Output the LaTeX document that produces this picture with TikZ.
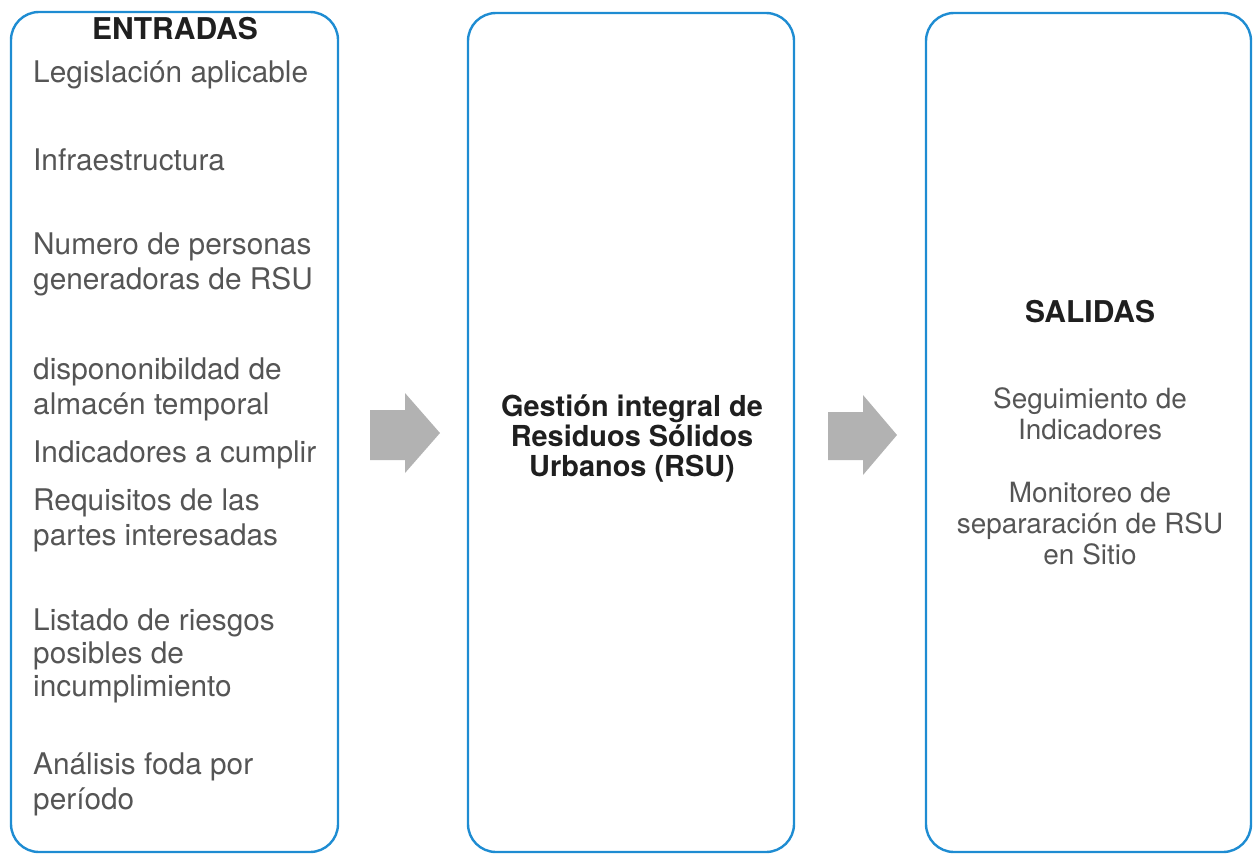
\documentclass[tikz,border=0pt]{standalone}
\usepackage{fontspec}
\setmainfont{TeX Gyre Heros}
\usetikzlibrary{positioning}
\definecolor{boxblue}{RGB}{30,140,210}
\definecolor{txtgray}{RGB}{85,85,85}
\definecolor{arrgray}{RGB}{178,178,178}
\tikzset{
  panel/.style={draw=boxblue, line width=2.4pt, rounded corners=28pt, inner sep=0pt},
  lefttxt/.style={anchor=west, text=txtgray, font=\fontsize{29.8}{35}\selectfont, align=left, inner sep=0pt},
  righttxt/.style={text=txtgray, font=\fontsize{27.9}{31}\selectfont, align=center, inner sep=0pt},
  headtxt/.style={text=black!88, font=\bfseries\fontsize{30}{32}\selectfont, inner sep=0pt},
  midtxt/.style={text=black!88, font=\bfseries\fontsize{28.9}{30}\selectfont, align=center, inner sep=0pt},
  blockarrow/.style={fill=arrgray, draw=none}
}
\begin{document}
\begin{tikzpicture}[x=1pt,y=-1pt]
\useasboundingbox (0,0) rectangle (1253,854);
% panels
\draw[panel] (11,12) rectangle (338,852);
\draw[panel] (468,13) rectangle (794,852);
\draw[panel] (926,13) rectangle (1251,852);
\node[panel, draw=none, minimum width=327pt, minimum height=840pt] (pin) at (174.5,432) {};
\node[panel, draw=none, minimum width=326pt, minimum height=839pt] (pmid) at (631,432.5) {};
\node[panel, draw=none, minimum width=325pt, minimum height=839pt] (pout) at (1088.5,432.5) {};
% left column
\node[headtxt] (hin) at (175,29) {ENTRADAS};
\node[lefttxt] (t1) at (33,75) {Legislación aplicable};
\node[lefttxt] (t2) at (33,160) {Infraestructura};
\node[lefttxt] (t3) at (33,264) {Numero de personas\\generadoras de RSU};
\node[lefttxt] (t4) at (33,389) {dispononibildad de\\almacén temporal};
\node[lefttxt] (t5) at (33,455) {Indicadores a cumplir};
\node[lefttxt] (t6) at (33,520) {Requisitos de las\\partes interesadas};
\node[lefttxt, font=\fontsize{29.8}{33}\selectfont] (t7) at (33,656) {Listado de riesgos\\posibles de\\incumplimiento};
\node[lefttxt] (t8) at (33,784) {Análisis foda por\\período};
% middle
\node[midtxt] (mid) at (632,439) {Gestión integral de\\Residuos Sólidos\\Urbanos (RSU)};
% right column
\node[headtxt] (hout) at (1090,312) {SALIDAS};
\node[righttxt] (r1) at (1090,414) {Seguimiento de\\Indicadores};
\node[righttxt] (r2) at (1090,524) {Monitoreo de\\separaración de RSU\\en Sitio};
% block arrows
\fill[blockarrow] (370,410) -- (405,410) -- (405,393) -- (440,433) -- (405,473) -- (405,460) -- (370,460) -- cycle;
\fill[blockarrow] (828,412) -- (863,412) -- (863,395) -- (897,435) -- (863,475) -- (863,460) -- (828,460) -- cycle;
\end{tikzpicture}
\end{document}
